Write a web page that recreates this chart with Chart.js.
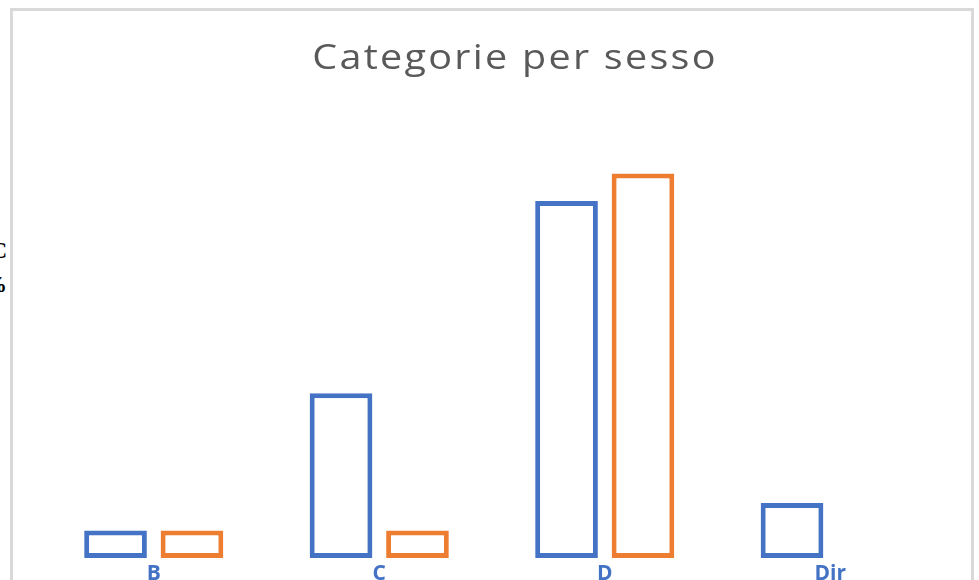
<!DOCTYPE html>
<html>
<head>
<meta charset="utf-8">
<script src="https://cdn.jsdelivr.net/npm/chart.js@4"></script>
<style>
    html, body { margin: 0; padding: 0; background: #fff; overflow: hidden; width: 979px; height: 580px; }
    #frame { position: absolute; left: 10px; top: 8px; width: 964px; height: 700px; box-sizing: border-box; border: 3px solid #d9d9d9; }
    #side { position: absolute; left: -43px; top: 234px; width: 50px; text-align: right; font: bold 23px 'Liberation Serif', serif; line-height: 34px; color: #000; }
    #wrap { position: absolute; left: 0; top: 0; width: 979px; height: 600px; }
</style>
</head>
<body>
<div id="side">C<br>%</div>
<div id="frame"></div>
<div id="wrap"><canvas id="sessoChart"></canvas></div>
<script>
// Categorie e conteggi per sesso
const categorie = ['B', 'C', 'D', 'Dir'];
const maschi = [1, 6, 13, 2];
const femmine = [1, 1, 14, 0];
const titolo = 'Categorie per sesso';

// Titolo disegnato a mano, un po' allargato
const titlePlugin = {
    id: 'titoloGrafico',
    afterDraw(chart) {
        const ctx = chart.ctx;
        ctx.save();
        ctx.font = '35px "Open Sans", sans-serif';
        ctx.fillStyle = '#595959';
        ctx.textAlign = 'center';
        ctx.textBaseline = 'alphabetic';
        ctx.letterSpacing = '2px';
        ctx.translate(515, 69);
        ctx.scale(1.13, 1);
        ctx.fillText(titolo, 0, 0);
        ctx.restore();
    }
};

// barre vuote, solo contorno
const barStyle = {
    backgroundColor: '#ffffff',
    borderWidth: 5,
    borderSkipped: false
};

const ctx = document.getElementById('sessoChart');
new Chart(ctx, {
    type: 'bar',
    data: {
        labels: categorie,
        datasets: [
            Object.assign({ label: 'M', data: maschi, borderColor: '#4472C4' }, barStyle),
            Object.assign({ label: 'F', data: femmine, borderColor: '#ED7D31' }, barStyle)
        ]
    },
    options: {
        responsive: true,
        maintainAspectRatio: false,
        animation: false,
        categoryPercentage: 0.678,
        barPercentage: 0.82,
        layout: {
            padding: { left: 41, right: 36, top: 118.5, bottom: 10.8 }
        },
        plugins: {
            legend: { display: false },
            title: { display: false },
            tooltip: { enabled: false }
        },
        scales: {
            x: {
                grid: { display: false, drawTicks: false },
                border: { display: false },
                ticks: {
                    padding: 3,
                    color: '#4472C4',
                    font: { family: '"Open Sans", sans-serif', size: 21, weight: 'bold' }
                }
            },
            y: {
                display: false,
                min: 0,
                max: 16
            }
        }
    },
    plugins: [titlePlugin]
});
</script>
</body>
</html>
